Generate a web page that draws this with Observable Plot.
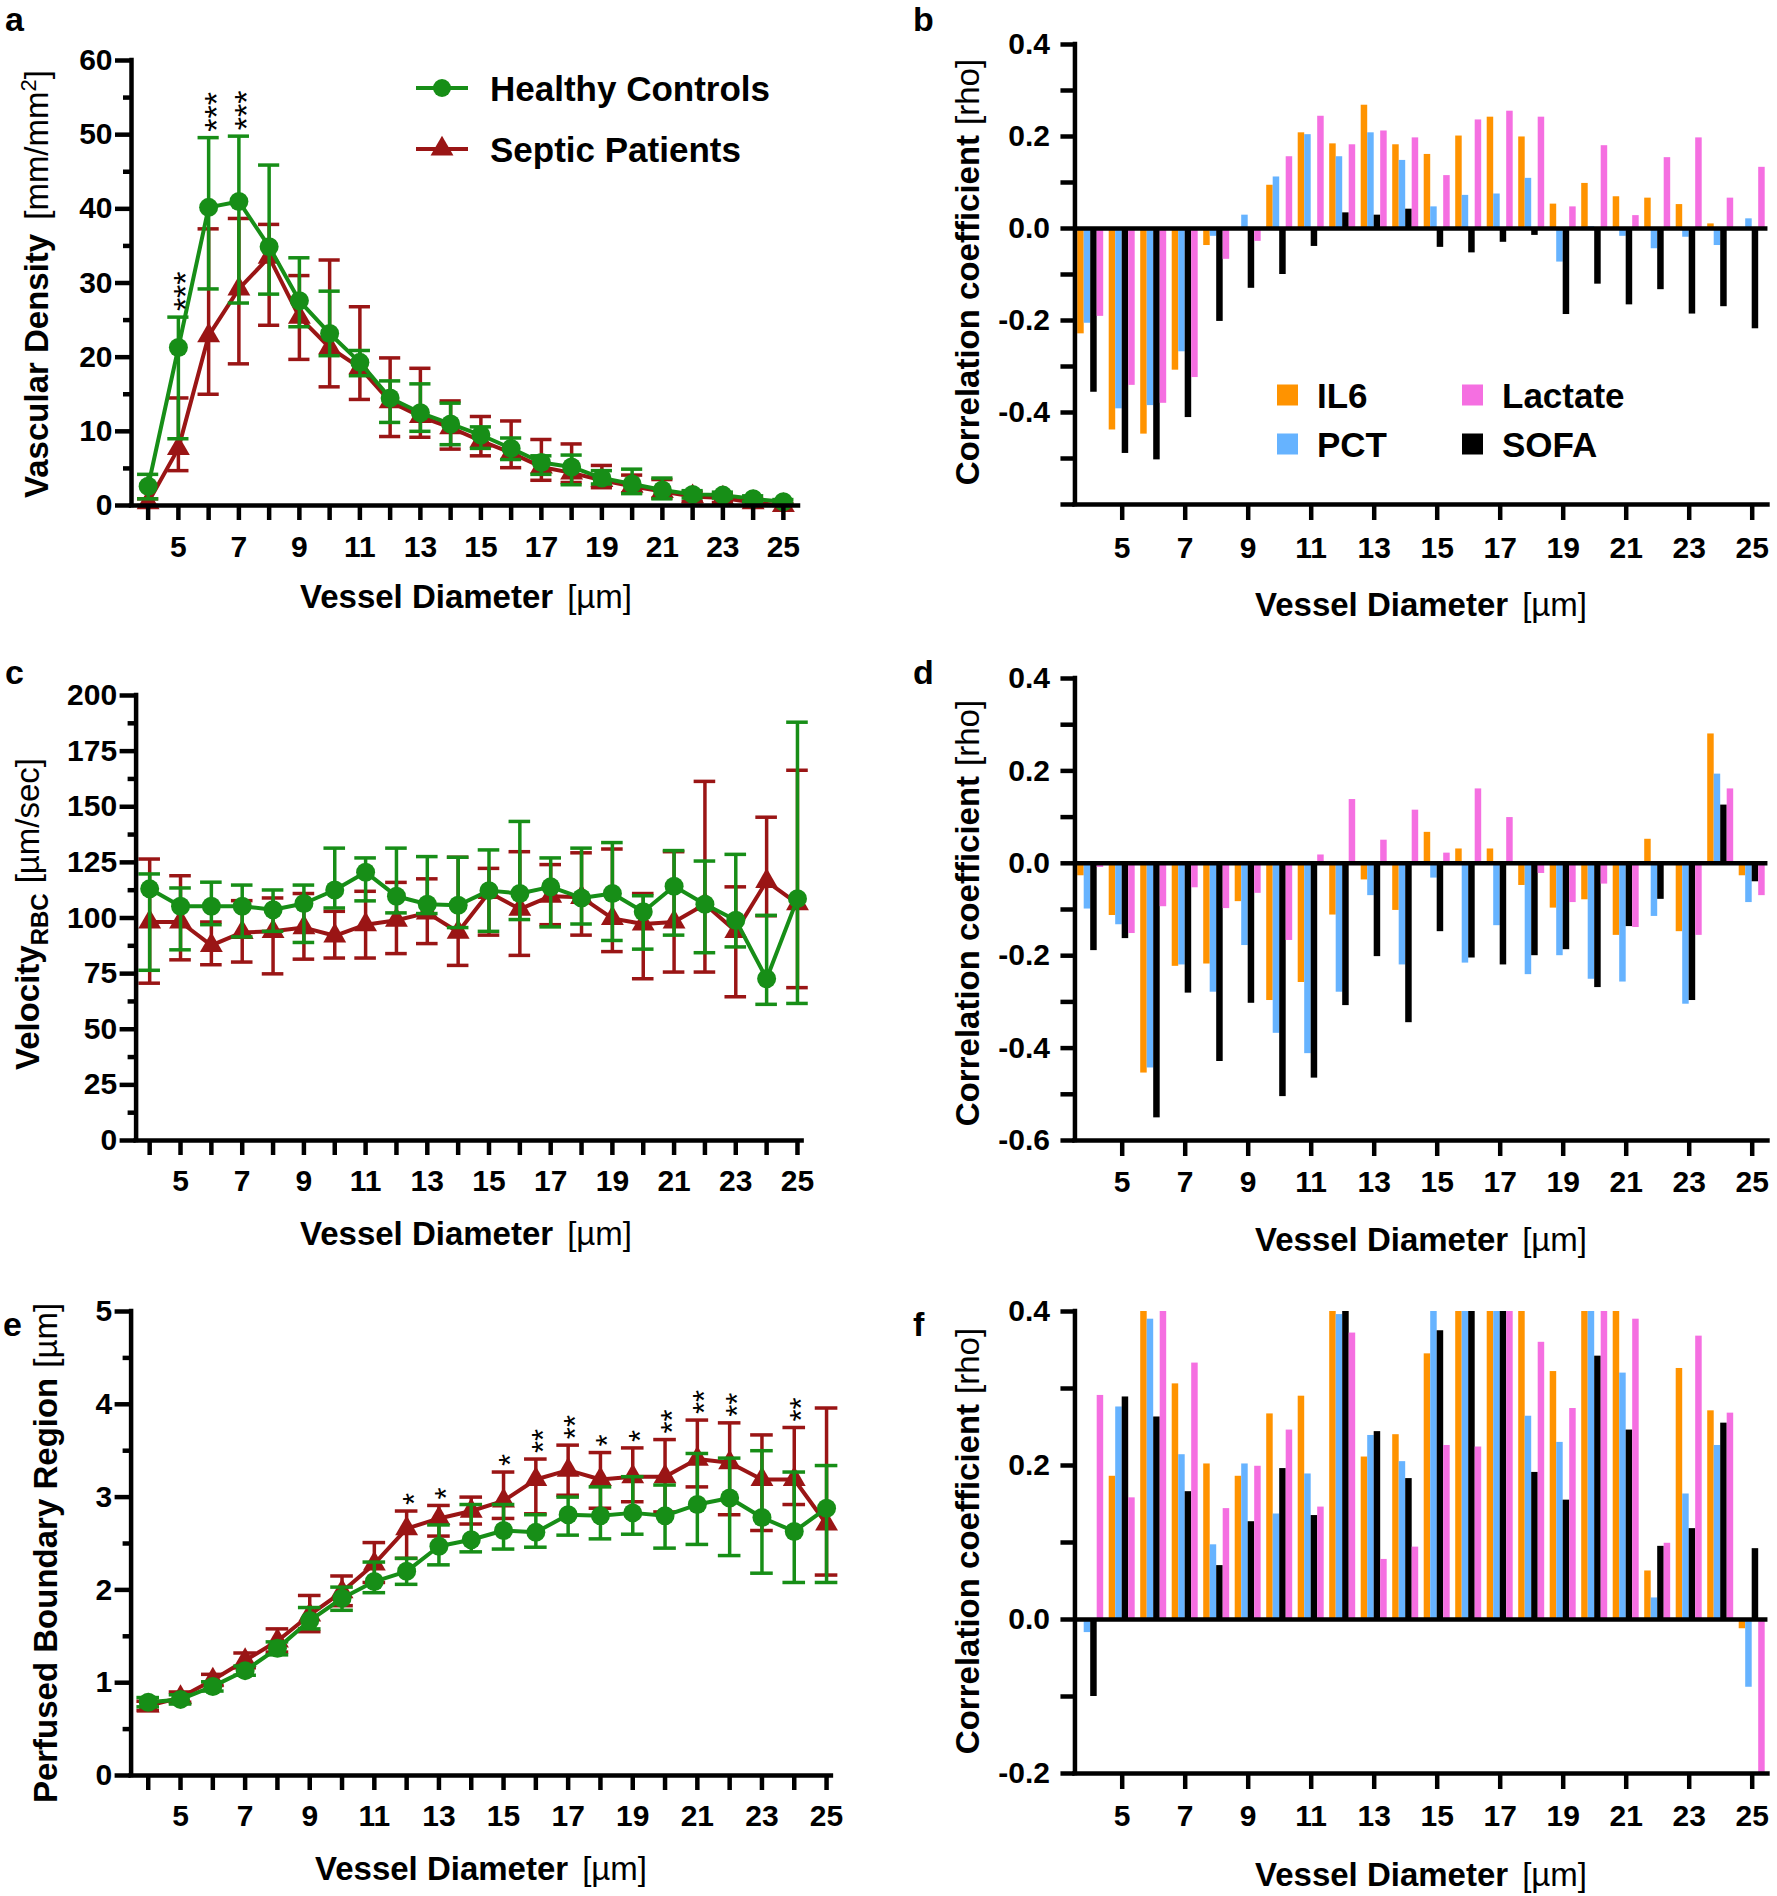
<!DOCTYPE html>
<html>
<head>
<meta charset="utf-8">
<script src="https://cdn.jsdelivr.net/npm/d3@7"></script>
<script src="https://cdn.jsdelivr.net/npm/@observablehq/plot@0.6"></script>
<style>
  body { margin: 0; background: #fff; }
  #fig { position: relative; width: 1777px; height: 1896px; background: #fff; overflow: hidden; }
  .panel { position: absolute; }
  #overlay { position: absolute; left: 0; top: 0; pointer-events: none; }
</style>
</head>
<body>
<div id="fig"></div>
<script>
// ---------------- DATA ----------------
const diameters = d3.range(4, 26);                 // vessel diameter categories (µm)
const xTickValues = [5, 7, 9, 11, 13, 15, 17, 19, 21, 23, 25];

// Panel a: vascular density (mm/mm²)
const aHealthy   = [2.6, 21.3, 40.2, 41.0, 34.9, 27.6, 23.2, 19.3, 14.5, 12.5, 11.0, 9.5, 7.7, 5.8, 5.2, 3.7, 2.9, 2.1, 1.5, 1.4, 0.9, 0.5];
const aHealthyLo = [0.9, 9.0, 29.2, 27.3, 28.5, 24.1, 20.2, 17.5, 11.2, 10.0, 8.2, 7.7, 6.2, 4.2, 2.8, 2.9, 1.6, 0.9, 1.0, 1.0, 0.5, 0.2];
const aHealthyHi = [4.2, 25.4, 49.6, 49.8, 45.9, 33.4, 28.9, 20.9, 16.8, 16.4, 13.8, 10.6, 9.1, 6.7, 6.8, 4.7, 4.9, 3.7, 2.0, 1.8, 1.3, 0.8];
const aSeptic    = [0.4, 7.7, 22.9, 29.2, 33.5, 25.4, 21.3, 18.6, 14.0, 12.0, 10.5, 8.7, 7.1, 5.2, 4.4, 3.4, 2.6, 1.9, 1.2, 1.0, 0.4, 0.0];
const aSepticLo  = [0.0, 4.7, 15.0, 19.1, 24.3, 19.7, 16.0, 14.3, 9.3, 9.2, 7.6, 6.7, 5.1, 3.4, 3.1, 2.4, 1.7, 1.0, 0.5, 0.4, 0.0, 0.0];
const aSepticHi  = [0.9, 14.5, 37.3, 38.7, 37.9, 31.0, 33.1, 26.8, 19.9, 18.5, 14.1, 12.0, 11.4, 8.9, 8.3, 5.4, 4.1, 3.5, 1.8, 1.5, 0.9, 0.3];
const aStarDiam  = [5, 6, 7];
const aStarText  = ["***", "***", "***"];

// Panel c: RBC velocity (µm/sec)
const cHealthy   = [113.1, 105.3, 105.3, 105.3, 103.7, 106.5, 112.6, 120.6, 109.8, 106.2, 105.7, 112.3, 111.0, 114.0, 109.0, 111.0, 102.8, 114.3, 106.2, 99.0, 72.7, 108.7];
const cHealthyLo = [76.5, 85.7, 97.0, 91.5, 94.0, 89.0, 104.5, 107.7, 102.3, 102.0, 95.7, 94.0, 99.3, 96.0, 97.3, 89.9, 86.0, 92.3, 84.4, 87.0, 61.2, 61.6];
const cHealthyHi = [119.8, 113.5, 116.1, 114.8, 112.6, 114.8, 131.4, 127.0, 131.4, 127.6, 127.3, 130.6, 143.4, 127.0, 131.4, 133.9, 110.0, 130.3, 125.6, 128.6, 101.2, 188.0];
const cSeptic    = [98.2, 98.2, 87.7, 93.5, 94.0, 95.7, 92.0, 97.0, 99.0, 102.3, 93.7, 111.5, 104.0, 109.8, 109.3, 99.8, 97.3, 98.2, 106.2, 94.0, 116.5, 106.5];
const cSepticLo  = [70.7, 81.2, 79.0, 80.2, 74.9, 81.5, 82.0, 82.0, 84.0, 88.5, 78.7, 92.3, 83.2, 97.0, 92.3, 84.9, 72.7, 75.7, 75.7, 64.6, 101.0, 68.7];
const cSepticHi  = [126.5, 119.0, 98.2, 107.8, 109.0, 111.0, 103.0, 112.0, 116.0, 117.6, 127.3, 122.3, 129.8, 124.0, 129.3, 131.0, 111.0, 129.8, 161.4, 114.0, 145.3, 166.4];

// Panel e: perfused boundary region (µm)
const eHealthy   = [0.79, 0.82, 0.96, 1.13, 1.37, 1.67, 1.91, 2.09, 2.20, 2.47, 2.54, 2.64, 2.62, 2.81, 2.80, 2.83, 2.80, 2.92, 2.99, 2.78, 2.63, 2.88];
const eHealthyLo = [0.74, 0.77, 0.91, 1.08, 1.30, 1.58, 1.78, 1.97, 2.06, 2.27, 2.41, 2.44, 2.46, 2.59, 2.55, 2.60, 2.45, 2.49, 2.37, 2.18, 2.08, 2.08];
const eHealthyHi = [0.84, 0.87, 1.01, 1.18, 1.44, 1.81, 2.03, 2.30, 2.34, 2.70, 2.92, 2.92, 2.81, 3.00, 3.11, 3.22, 3.13, 3.47, 3.42, 3.50, 3.27, 3.34];
const eSeptic    = [0.75, 0.84, 1.03, 1.24, 1.45, 1.73, 1.98, 2.28, 2.66, 2.77, 2.85, 2.96, 3.19, 3.29, 3.19, 3.22, 3.22, 3.41, 3.37, 3.19, 3.19, 2.71];
const eSepticLo  = [0.70, 0.79, 0.97, 1.16, 1.33, 1.55, 1.83, 2.08, 2.34, 2.58, 2.71, 2.77, 2.82, 3.02, 2.88, 2.95, 2.84, 3.11, 2.81, 2.64, 2.92, 2.16];
const eSepticHi  = [0.80, 0.90, 1.09, 1.32, 1.58, 1.94, 2.15, 2.51, 2.85, 2.91, 3.00, 3.27, 3.41, 3.56, 3.48, 3.53, 3.62, 3.83, 3.80, 3.67, 3.75, 3.96];
const eStarDiam  = [12, 13, 15, 16, 17, 18, 19, 20, 21, 22, 24];
const eStarText  = ["*", "*", "*", "**", "**", "*", "*", "**", "**", "**", "**"];

// Correlation panels: series order within each group
const corrSeries = ["IL6", "PCT", "SOFA", "Lactate"];

// Panel b
const bIL6  = [-0.229, -0.438, -0.447, -0.308, -0.037, -0.004, 0.094, 0.208, 0.184, 0.268, 0.182, 0.161, 0.201, 0.242, 0.199, 0.053, 0.098, 0.069, 0.066, 0.052, 0.010, 0.002];
const bPCT  = [-0.206, -0.392, -0.385, -0.268, -0.017, 0.029, 0.112, 0.204, 0.156, 0.208, 0.148, 0.047, 0.072, 0.075, 0.109, -0.073, 0.004, -0.017, -0.044, -0.019, -0.037, 0.021];
const bSOFA = [-0.356, -0.489, -0.503, -0.411, -0.202, -0.130, -0.100, -0.039, 0.034, 0.029, 0.042, -0.041, -0.053, -0.030, -0.015, -0.187, -0.121, -0.166, -0.133, -0.186, -0.170, -0.218];
const bLac  = [-0.191, -0.341, -0.380, -0.324, -0.067, -0.028, 0.156, 0.244, 0.182, 0.212, 0.197, 0.115, 0.236, 0.255, 0.242, 0.047, 0.180, 0.028, 0.154, 0.197, 0.066, 0.133];

// Panel d
const dIL6  = [-0.027, -0.113, -0.454, -0.223, -0.218, -0.083, -0.297, -0.258, -0.112, -0.036, -0.102, 0.067, 0.031, 0.031, -0.048, -0.097, -0.079, -0.156, 0.052, -0.148, 0.280, -0.027];
const dPCT  = [-0.099, -0.133, -0.443, -0.220, -0.279, -0.178, -0.368, -0.412, -0.279, -0.070, -0.220, -0.032, -0.216, -0.135, -0.241, -0.200, -0.251, -0.257, -0.115, -0.305, 0.193, -0.085];
const dSOFA = [-0.189, -0.163, -0.551, -0.281, -0.429, -0.303, -0.505, -0.465, -0.308, -0.202, -0.345, -0.148, -0.205, -0.220, -0.200, -0.187, -0.269, -0.137, -0.078, -0.297, 0.126, -0.040];
const dLac  = [-0.009, -0.152, -0.094, -0.053, -0.098, -0.065, -0.167, 0.018, 0.138, 0.050, 0.115, 0.022, 0.161, 0.099, -0.022, -0.085, -0.045, -0.139, 0.000, -0.156, 0.161, -0.070];

// Panel f (bars reaching the 0.4 frame are shown at the axis limit)
const fIL6  = [-0.002, 0.186, 0.400, 0.306, 0.202, 0.186, 0.267, 0.290, 0.400, 0.211, 0.240, 0.345, 0.400, 0.400, 0.400, 0.322, 0.400, 0.400, 0.063, 0.326, 0.271, -0.012];
const fPCT  = [-0.017, 0.276, 0.390, 0.214, 0.097, 0.202, 0.137, 0.189, 0.396, 0.239, 0.205, 0.400, 0.400, 0.400, 0.264, 0.230, 0.400, 0.320, 0.028, 0.163, 0.226, -0.088];
const fSOFA = [-0.100, 0.289, 0.263, 0.166, 0.070, 0.127, 0.196, 0.135, 0.400, 0.244, 0.183, 0.375, 0.400, 0.400, 0.191, 0.155, 0.342, 0.246, 0.095, 0.118, 0.255, 0.092];
const fLac  = [0.291, 0.158, 0.400, 0.333, 0.144, 0.199, 0.246, 0.146, 0.372, 0.078, 0.094, 0.226, 0.224, 0.400, 0.360, 0.274, 0.400, 0.390, 0.099, 0.368, 0.268, -0.200];

// Tick labels
const aYTicks = [0, 10, 20, 30, 40, 50, 60];
const cYTicks = [0, 25, 50, 75, 100, 125, 150, 175, 200];
const eYTicks = [0, 1, 2, 3, 4, 5];
const bYLabels = ["0.4", "0.2", "0.0", "-0.2", "-0.4"];
const dYLabels = ["0.4", "0.2", "0.0", "-0.2", "-0.4", "-0.6"];
const fYLabels = ["0.4", "0.2", "0.0", "-0.2"];

// ---------------- STYLE ----------------
const FONT = '"Liberation Sans", Arial, Helvetica, sans-serif';
const GREEN = "#178e17";
const RED = "#9a1515";
const corrColors = ["#ff9300", "#66b3ff", "#000000", "#f56fe1"];
const AXW = 4.5;
const plotStyle = {fontFamily: FONT, fontSize: "30px", fontWeight: "bold", overflow: "visible",
                   background: "transparent", maxWidth: "none", color: "#000"};

const fig = document.getElementById("fig");
function place(node, left, top) {
  const div = document.createElement("div");
  div.className = "panel";
  div.style.left = left + "px";
  div.style.top = top + "px";
  div.appendChild(node);
  fig.appendChild(div);
}

function rowsOf(m, lo, hi) {
  return diameters.map((d, i) => ({d, m: m[i], lo: lo[i], hi: hi[i]}));
}

function linePanel(cfg) {
  const hc = rowsOf(cfg.hc, cfg.hcLo, cfg.hcHi);
  const sp = rowsOf(cfg.sp, cfg.spLo, cfg.spHi);
  const cap = 0.35;
  const series = (rows, color, symbol, r) => [
    Plot.ruleX(rows, {x: "d", y1: "lo", y2: "hi", stroke: color, strokeWidth: 3.5}),
    Plot.ruleY(rows, {y: "lo", x1: q => q.d - cap, x2: q => q.d + cap, stroke: color, strokeWidth: 3.5}),
    Plot.ruleY(rows, {y: "hi", x1: q => q.d - cap, x2: q => q.d + cap, stroke: color, strokeWidth: 3.5}),
    Plot.line(rows, {x: "d", y: "m", stroke: color, strokeWidth: 4}),
    Plot.dot(rows, {x: "d", y: "m", symbol, r, fill: color, stroke: "none"})
  ];
  const starRows = cfg.starDiam.map((d, i) => {
    const j = diameters.indexOf(d);
    return {d, y: Math.max(hc[j].hi, sp[j].hi), s: cfg.starText[i]};
  });
  return Plot.plot({
    width: cfg.width, height: cfg.height,
    marginLeft: cfg.mLeft, marginRight: cfg.mRight, marginTop: cfg.mTop, marginBottom: cfg.mBottom,
    x: {type: "linear", domain: cfg.xDomain},
    y: {type: "linear", domain: cfg.yDomain},
    style: plotStyle,
    marks: [
      ...series(sp, RED, "triangle", 8.5),
      ...series(hc, GREEN, "circle", 9.5),
      Plot.text(starRows, {x: "d", y: "y", text: "s", rotate: -90, textAnchor: "start",
                           fontSize: cfg.starSize, fontWeight: "normal", dx: 8, dy: -6}),
      Plot.ruleX([cfg.xDomain[0]], {stroke: "#000", strokeWidth: AXW, strokeLinecap: "square"}),
      Plot.ruleY([cfg.yDomain[0]], {stroke: "#000", strokeWidth: AXW, strokeLinecap: "square"}),
      Plot.axisY({ticks: cfg.yMajor, tickSize: 16, tickPadding: 3, strokeWidth: AXW, label: null,
                  tickFormat: d => String(d)}),
      Plot.axisY({ticks: cfg.yMinor, tickSize: 8, strokeWidth: AXW, label: null, tickFormat: () => ""}),
      Plot.axisX({ticks: diameters, tickSize: 15, tickPadding: cfg.xPad, strokeWidth: AXW, label: null,
                  tickFormat: d => xTickValues.includes(d) ? String(d) : ""})
    ]
  });
}

const GROUP = 0.825;            // fraction of one diameter step used by a group of 4 bars
const BAR = GROUP / corrSeries.length;

function barPanel(cfg) {
  const rows = [];
  corrSeries.forEach((s, k) => cfg.values[k].forEach((v, i) => rows.push({d: diameters[i], s, k, v})));
  const yTicks = d3.range(Math.round(cfg.yDomain[0] * 10), Math.round(cfg.yDomain[1] * 10) + 1).map(k => k / 10);
  return Plot.plot({
    width: 877, height: cfg.height,
    marginLeft: 174.45, marginRight: 9.55, marginTop: cfg.mTop, marginBottom: cfg.mBottom,
    x: {type: "linear", domain: [3.5, 25.5]},
    y: {type: "linear", domain: cfg.yDomain},
    color: {domain: corrSeries, range: corrColors},
    style: plotStyle,
    marks: [
      Plot.rect(rows, {x1: r => r.d - GROUP / 2 + r.k * BAR, x2: r => r.d - GROUP / 2 + (r.k + 1) * BAR,
                       y1: () => 0, y2: "v", fill: "s"}),
      Plot.ruleY([0], {stroke: "#000", strokeWidth: AXW}),
      Plot.ruleX([3.5], {stroke: "#000", strokeWidth: AXW, strokeLinecap: "square"}),
      Plot.ruleY([cfg.yDomain[0]], {stroke: "#000", strokeWidth: AXW, strokeLinecap: "square"}),
      Plot.axisY({ticks: yTicks, tickSize: 14, tickPadding: 11, strokeWidth: AXW, label: null,
                  tickFormat: d => { const t = d.toFixed(1) === "-0.0" ? "0.0" : d.toFixed(1);
                                     return cfg.yLabels.includes(t) ? t : ""; }}),
      Plot.axisX({ticks: xTickValues, tickSize: 16, tickPadding: cfg.xPad, strokeWidth: AXW, label: null,
                  tickFormat: d => String(d)})
    ]
  });
}

// ---------------- PANELS ----------------
place(linePanel({width: 820, height: 640, mLeft: 131, mRight: 22, mTop: 60, mBottom: 135,
  xDomain: [3.45, 25.5], yDomain: [0, 60], yMajor: aYTicks, yMinor: [5, 15, 25, 35, 45, 55], xPad: 15,
  hc: aHealthy, hcLo: aHealthyLo, hcHi: aHealthyHi, sp: aSeptic, spLo: aSepticLo, spHi: aSepticHi,
  starDiam: aStarDiam, starText: aStarText, starSize: 34}), 0, 0);

place(linePanel({width: 820, height: 620, mLeft: 135.6, mRight: 18.4, mTop: 55, mBottom: 120,
  xDomain: [3.56, 25.15], yDomain: [0, 200], yMajor: cYTicks, yMinor: [12.5, 37.5, 62.5, 87.5, 112.5, 137.5, 162.5, 187.5], xPad: 14,
  hc: cHealthy, hcLo: cHealthyLo, hcHi: cHealthyHi, sp: cSeptic, spLo: cSepticLo, spHi: cSepticHi,
  starDiam: [], starText: [], starSize: 30}), 0, 640);

place(linePanel({width: 860, height: 626, mLeft: 130.6, mRight: 29.1, mTop: 41, mBottom: 121,
  xDomain: [3.47, 25.15], yDomain: [0, 5], yMajor: eYTicks, yMinor: [0.5, 1.5, 2.5, 3.5, 4.5], xPad: 14,
  hc: eHealthy, hcLo: eHealthyLo, hcHi: eHealthyHi, sp: eSeptic, spLo: eSepticLo, spHi: eSepticHi,
  starDiam: eStarDiam, starText: eStarText, starSize: 31}), 0, 1270);

place(barPanel({height: 640, mTop: 44, mBottom: 136, yDomain: [-0.6, 0.4], yLabels: bYLabels, xPad: 16,
  values: [bIL6, bPCT, bSOFA, bLac]}), 900, 0);
place(barPanel({height: 620, mTop: 38, mBottom: 120, yDomain: [-0.6, 0.4], yLabels: dYLabels, xPad: 14,
  values: [dIL6, dPCT, dSOFA, dLac]}), 900, 640);
place(barPanel({height: 626, mTop: 41, mBottom: 123, yDomain: [-0.2, 0.4], yLabels: fYLabels, xPad: 15,
  values: [fIL6, fPCT, fSOFA, fLac]}), 900, 1270);

// ---------------- TEXT OVERLAY (titles, legends, panel letters) ----------------
const NS = "http://www.w3.org/2000/svg";
const ov = document.createElementNS(NS, "svg");
ov.setAttribute("id", "overlay");
ov.setAttribute("width", 1777);
ov.setAttribute("height", 1896);
ov.style.fontFamily = FONT;
fig.appendChild(ov);

function el(tag, attrs, parent = ov) {
  const e = document.createElementNS(NS, tag);
  for (const k in attrs) e.setAttribute(k, attrs[k]);
  parent.appendChild(e);
  return e;
}
function tspan(parent, text, attrs = {}) {
  const t = el("tspan", attrs, parent);
  t.textContent = text;
  return t;
}
function xTitle(cx, cy) {
  const t = el("text", {x: cx, y: cy + 12, "text-anchor": "middle", "font-size": 33});
  tspan(t, "Vessel Diameter", {"font-weight": "bold"});
  tspan(t, "[µm]", {dx: 14});
}
function yTitle(cx, cy, parts) {
  const t = el("text", {transform: `translate(${cx},${cy}) rotate(-90)`, x: 0, y: 12, "text-anchor": "middle", "font-size": 33});
  parts.forEach(p => tspan(t, p.text, p.attrs || {}));
}
function letter(x, y, s) {
  const t = el("text", {x, y, "font-size": 34, "font-weight": "bold"});
  t.textContent = s;
}

letter(5, 31, "a"); letter(913, 31, "b");
letter(5, 684, "c"); letter(913, 684, "d");
letter(3, 1336, "e"); letter(913, 1336, "f");

[[466, 596], [1421, 604], [466, 1233], [1421, 1239], [481, 1868], [1421, 1874]].forEach(([x, y]) => xTitle(x, y));

yTitle(36, 284, [{text: "Vascular Density", attrs: {"font-weight": "bold"}},
                 {text: "[mm/mm", attrs: {dx: 14}},
                 {text: "2", attrs: {dy: -12, "font-size": 22}},
                 {text: "]", attrs: {dy: 12}}]);
yTitle(27, 914, [{text: "Velocity", attrs: {"font-weight": "bold"}},
                 {text: "RBC", attrs: {"font-weight": "bold", "font-size": 24, dy: 9}},
                 {text: "[µm/sec]", attrs: {dy: -9, dx: 10}}]);
yTitle(45, 1553, [{text: "Perfused Boundary Region", attrs: {"font-weight": "bold"}},
                  {text: "[µm]", attrs: {dx: 10}}]);
[[967, 272], [967, 913], [967, 1541]].forEach(([x, y]) =>
  yTitle(x, y, [{text: "Correlation coefficient", attrs: {"font-weight": "bold"}},
                {text: "[rho]", attrs: {dx: 10}}]));

// Panel a legend
const legA = [
  {label: "Healthy Controls", color: GREEN, shape: "circle", y: 88},
  {label: "Septic Patients", color: RED, shape: "triangle", y: 149}
];
legA.forEach(l => {
  el("line", {x1: 416, x2: 468, y1: l.y, y2: l.y, stroke: l.color, "stroke-width": 4});
  if (l.shape === "circle") el("circle", {cx: 442, cy: l.y, r: 9, fill: l.color});
  else el("path", {d: d3.symbol(d3.symbolTriangle, Math.PI * 8.5 * 8.5)(), transform: `translate(442,${l.y})`, fill: l.color});
  const t = el("text", {x: 490, y: l.y + 12.5, "font-size": 35, "font-weight": "bold"});
  t.textContent = l.label;
});

// Correlation legend (panel b)
const legB = [
  {label: "IL6", k: 0, x: 1277, y: 395},
  {label: "PCT", k: 1, x: 1277, y: 444},
  {label: "Lactate", k: 3, x: 1462, y: 395},
  {label: "SOFA", k: 2, x: 1462, y: 444}
];
legB.forEach(l => {
  el("rect", {x: l.x, y: l.y - 10.5, width: 21, height: 21, fill: corrColors[l.k]});
  const t = el("text", {x: l.x + 40, y: l.y + 12.5, "font-size": 35, "font-weight": "bold"});
  t.textContent = l.label;
});
</script>
</body>
</html>
